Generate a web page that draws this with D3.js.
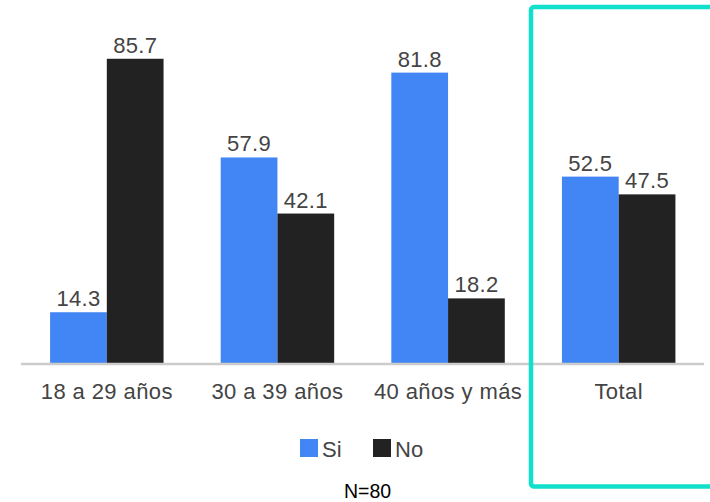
<!DOCTYPE html>
<html><head><meta charset="utf-8">
<script src="https://cdn.jsdelivr.net/npm/d3@7"></script>
<style>body{margin:0;background:#fff}svg{display:block}</style>
</head><body>
<svg id="c" width="710" height="502"></svg>
<script>
const categories = ["18 a 29 años", "30 a 39 años", "40 años y más", "Total"];
const seriesNames = ["Si", "No"];
const si = [14.3, 57.9, 81.8, 52.5];
const no = [85.7, 42.1, 18.2, 47.5];
const colors = ["#4285F4", "#222222"];
const note = "N=80";

const FONT = "Liberation Sans, Arial, sans-serif";
const svg = d3.select("#c");
const x0 = d3.scaleBand().domain(categories).range([21.5, 704]).paddingInner(0.335).paddingOuter(0.1675);
const x1 = d3.scaleBand().domain(seriesNames).range([0, x0.bandwidth()]);
const y = d3.scaleLinear().domain([0, 100]).range([363, 8]);
const color = d3.scaleOrdinal().domain(seriesNames).range(colors);

const rows = categories.map((c, i) => ({cat: c, vals: [{k: "Si", v: si[i]}, {k: "No", v: no[i]}]}));

const g = svg.append("g");
const groups = g.selectAll("g.grp").data(rows).join("g").attr("class", "grp")
  .attr("transform", d => `translate(${x0(d.cat)},0)`);
groups.selectAll("rect").data(d => d.vals).join("rect")
  .attr("x", d => x1(d.k)).attr("width", x1.bandwidth())
  .attr("y", d => y(d.v)).attr("height", d => y(0) - y(d.v))
  .attr("fill", d => color(d.k));
groups.selectAll("text.val").data(d => d.vals).join("text").attr("class", "val")
  .attr("x", d => x1(d.k) + x1.bandwidth() / 2).attr("y", d => y(d.v) - 6)
  .attr("text-anchor", "middle").attr("font-family", FONT)
  .attr("font-size", 22).attr("fill", "#444").attr("letter-spacing", 0.3).text(d => d.v.toFixed(1));

// baseline
g.append("line").attr("x1", 21).attr("x2", 704).attr("y1", y(0) + 1).attr("y2", y(0) + 1)
  .attr("stroke", "#cccccc").attr("stroke-width", 2.5);

// x axis labels
const xAxis = d3.axisBottom(x0).tickSize(0).tickPadding(0);
const ax = svg.append("g").attr("transform", `translate(0,${y(0)})`).call(xAxis);
ax.select(".domain").remove();
ax.selectAll("text").attr("font-family", FONT)
  .attr("font-size", 22).attr("fill", "#444").attr("dy", null).attr("y", 36)
  .attr("letter-spacing", 0.4);

// legend
const leg = svg.append("g");
const legX = [300, 373];
seriesNames.forEach((s, i) => {
  leg.append("rect").attr("x", legX[i]).attr("y", 439).attr("width", 18).attr("height", 18).attr("fill", color(s));
  leg.append("text").attr("x", legX[i] + 22).attr("y", 457).attr("font-family", FONT)
    .attr("font-size", 22).attr("fill", "#444").text(s);
});

// note
svg.append("text").attr("x", 367.5).attr("y", 498).attr("text-anchor", "middle")
  .attr("font-family", FONT).attr("font-size", 19.5).attr("fill", "#000").text(note);

// highlight frame
svg.append("rect").attr("x", 531).attr("y", 7).attr("width", 200).attr("height", 479.5).attr("rx", 3)
  .attr("fill", "none").attr("stroke", "#11E0CC").attr("stroke-width", 4.5);
</script>
</body></html>
